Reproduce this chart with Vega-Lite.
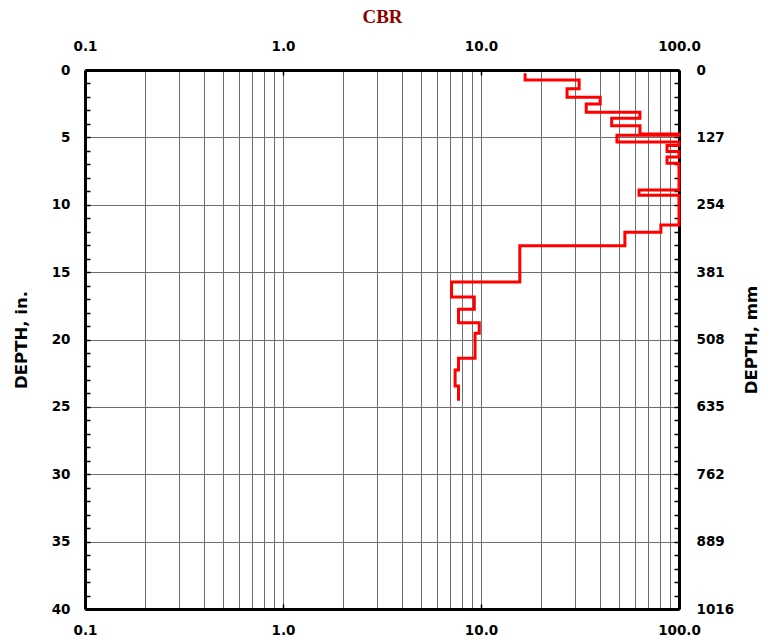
{
  "$schema": "https://vega.github.io/schema/vega-lite/v6.json",
  "width": 594,
  "height": 539,
  "autosize": {"type": "none"},
  "padding": {"left": 85, "top": 70, "right": 86, "bottom": 32},
  "background": "white",
  "config": {
    "view": {"stroke": null},
    "axis": {
      "labelFont": "DejaVu Sans",
      "labelFontSize": 13.5,
      "labelFontWeight": "bold",
      "labelColor": "black",
      "labelFlush": false,
      "labelOverlap": false,
      "labelBound": false,
      "domainColor": "black",
      "domainWidth": 3,
      "tickColor": "black",
      "tickWidth": 1.5,
      "tickSize": -5,
      "gridColor": "#6e6e6e",
      "gridWidth": 1,
      "titleFont": "DejaVu Sans",
      "titleFontSize": 16.5,
      "titleFontWeight": "bold",
      "titleColor": "black"
    }
  },
  "data": {
    "values": [
      {"depth": 0.25, "cbr": 16.7},
      {"depth": 0.75, "cbr": 31.3},
      {"depth": 1.4, "cbr": 27.2},
      {"depth": 2.03, "cbr": 40},
      {"depth": 2.52, "cbr": 34},
      {"depth": 3.14, "cbr": 63.5},
      {"depth": 3.58, "cbr": 45.7},
      {"depth": 4.13, "cbr": 63.5},
      {"depth": 4.75, "cbr": 100},
      {"depth": 4.85, "cbr": 48.6},
      {"depth": 5.35, "cbr": 100},
      {"depth": 5.6, "cbr": 87},
      {"depth": 6.05, "cbr": 100},
      {"depth": 6.45, "cbr": 87},
      {"depth": 6.92, "cbr": 100},
      {"depth": 8.9, "cbr": 62.8},
      {"depth": 9.3, "cbr": 100},
      {"depth": 11.5, "cbr": 81},
      {"depth": 12.05, "cbr": 53.3},
      {"depth": 13.04, "cbr": 15.7},
      {"depth": 15.73, "cbr": 7.1},
      {"depth": 16.85, "cbr": 9.25},
      {"depth": 17.76, "cbr": 7.7},
      {"depth": 18.75, "cbr": 9.8},
      {"depth": 19.54, "cbr": 9.33},
      {"depth": 21.4, "cbr": 7.7},
      {"depth": 22.26, "cbr": 7.4},
      {"depth": 23.45, "cbr": 7.7},
      {"depth": 24.55, "cbr": 7.7}
    ]
  },
  "layer": [
    {
      "description": "Carrier layer for the top CBR axis and the right-hand millimetre axis",
      "mark": {"type": "point", "opacity": 0},
      "encoding": {
        "x": {
          "field": "cbr",
          "type": "quantitative",
          "scale": {"type": "log", "domain": [0.1, 100]},
          "axis": {
            "orient": "top",
            "values": [0.1, 1, 10, 100],
            "format": ".1f",
            "grid": false,
            "labelPadding": 22,
            "title": "CBR",
            "titleFont": "Liberation Serif",
            "titleFontSize": 19,
            "titleFontWeight": "bold",
            "titleColor": "#8b0000",
            "titlePadding": 13
          }
        },
        "y": {
          "field": "depth",
          "type": "quantitative",
          "scale": {"domain": [0, 40], "reverse": true},
          "axis": {
            "orient": "right",
            "values": [0,1,2,3,4,5,6,7,8,9,10,11,12,13,14,15,16,17,18,19,20,21,22,23,24,25,26,27,28,29,30,31,32,33,34,35,36,37,38,39,40],
            "labelExpr": "datum.value % 5 === 0 ? format(datum.value * 25.4, 'd') : ''",
            "grid": false,
            "labelPadding": 22,
            "title": "DEPTH, mm",
            "titleAngle": 270,
            "titleBaseline": "top",
            "titlePadding": 10
          }
        }
      }
    },
    {
      "description": "CBR profile drawn as a step line down the depth",
      "mark": {
        "type": "line",
        "color": "#ff0000",
        "strokeWidth": 3,
        "strokeJoin": "miter",
        "interpolate": "step-before",
        "clip": false
      },
      "encoding": {
        "x": {
          "field": "cbr",
          "type": "quantitative",
          "scale": {"type": "log", "domain": [0.1, 100]},
          "axis": {
            "orient": "bottom",
            "values": [0.1,0.2,0.3,0.4,0.5,0.6,0.7,0.8,0.9,1,2,3,4,5,6,7,8,9,10,20,30,40,50,60,70,80,90,100],
            "format": ".1f",
            "labelExpr": "abs(log(datum.value) / LN10 - round(log(datum.value) / LN10)) < 0.001 ? datum.label : ''",
            "tickOpacity": {
              "condition": {"test": "abs(log(datum.value) / LN10 - round(log(datum.value) / LN10)) < 0.001", "value": 1},
              "value": 0
            },
            "grid": true,
            "labelPadding": 19,
            "title": null
          }
        },
        "y": {
          "field": "depth",
          "type": "quantitative",
          "scale": {"domain": [0, 40], "reverse": true},
          "axis": {
            "orient": "left",
            "values": [0,1,2,3,4,5,6,7,8,9,10,11,12,13,14,15,16,17,18,19,20,21,22,23,24,25,26,27,28,29,30,31,32,33,34,35,36,37,38,39,40],
            "labelExpr": "datum.value % 5 === 0 ? datum.label : ''",
            "grid": true,
            "gridOpacity": {
              "condition": {"test": "datum.value % 5 === 0", "value": 1},
              "value": 0
            },
            "labelPadding": 20,
            "title": "DEPTH, in.",
            "titlePadding": 22
          }
        },
        "order": {"field": "depth"}
      }
    }
  ],
  "resolve": {"scale": {"x": "independent", "y": "independent"}}
}
